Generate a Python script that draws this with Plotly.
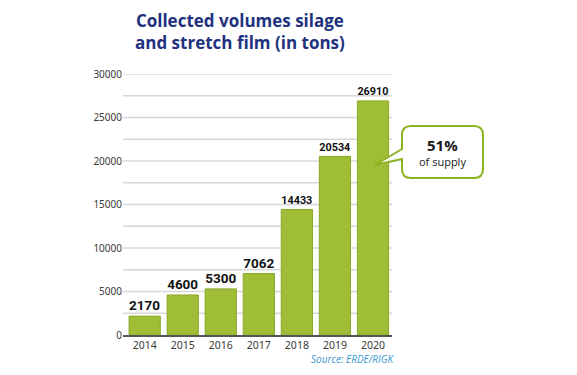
import plotly.graph_objects as go

years = ["2014", "2015", "2016", "2017", "2018", "2019", "2020"]
volumes = [2170, 4600, 5300, 7062, 14433, 20534, 26910]
y_ticks = [0, 5000, 10000, 15000, 20000, 25000, 30000]
title_text = "Collected volumes silage<br>and stretch film (in tons)"
callout_main = "51%"
callout_sub = "of supply"
source_text = "Source: ERDE/RIGK"

W, H = 577, 375
OFF = 8  # page body margin
L, T = 123 - OFF, 74 - OFF
R = W - (392 - OFF)
B = H - (335 - OFF)
PW, PH = W - L - R, H - T - B


def px(X, Y):
    return (X - OFF - L) / PW, (H - B - (Y - OFF)) / PH


def callout_path(x1, y1, x2, y2, r, tail):
    def P(X, Y):
        a, b = px(X, Y)
        return f"{a:.5f},{b:.5f}"
    (ty1, tx, ty, ty2) = tail
    s = f"M{P(x1 + r, y1)} L{P(x2 - r, y1)} Q{P(x2, y1)} {P(x2, y1 + r)} "
    s += f"L{P(x2, y2 - r)} Q{P(x2, y2)} {P(x2 - r, y2)} "
    s += f"L{P(x1 + r, y2)} Q{P(x1, y2)} {P(x1, y2 - r)} "
    s += f"L{P(x1, ty2)} L{P(tx, ty)} L{P(x1, ty1)} "
    s += f"L{P(x1, y1 + r)} Q{P(x1, y1)} {P(x1 + r, y1)} Z"
    return s


fig = go.Figure()
fig.add_trace(go.Bar(
    x=years, y=volumes,
    marker=dict(color="#a0bd37", line=dict(color="#88a826", width=1)),
    text=volumes, texttemplate="<b>%{text}</b>", textposition="outside",
    textfont=dict(family="Liberation Sans Narrow, Roboto, sans-serif", size=13.5, color="#111111"),
    cliponaxis=False,
    width=0.82,
))

fig.update_layout(
    width=W, height=H,
    margin=dict(l=L, r=R, t=T, b=B),
    paper_bgcolor="white", plot_bgcolor="white",
    showlegend=False,
    font=dict(family="Noto Sans, sans-serif", size=10, color="#3a3a3a"),
    xaxis=dict(range=[-0.57, 6.5], showgrid=False, showline=True, linecolor="#555555",
               linewidth=1.5, ticks="", tickfont=dict(size=10.5, color="#3a3a3a")),
    yaxis=dict(range=[0, 30000], tickvals=y_ticks, tickformat="d", showgrid=False, zeroline=False,
               showline=False, ticks="", tickfont=dict(size=10, color="#3a3a3a")),
    bargap=0.18,
)

for g in range(2500, 30001, 2500):
    fig.add_shape(type="line", xref="paper", yref="y", x0=0, x1=1, y0=g, y1=g,
                  line=dict(color="#d8d8d8", width=1.5), layer="below")

fig.add_shape(type="path", xref="paper", yref="paper",
              path=callout_path(402, 126, 483, 178, 9, (149, 375, 165, 159)),
              line=dict(color="#8ab31f", width=2), fillcolor="white", layer="above")

tx, ty = px(240, 7)
fig.add_annotation(x=tx, y=ty, xref="paper", yref="paper", text=f"<b>{title_text}</b>",
                   xanchor="center", yanchor="top", showarrow=False,
                   font=dict(family="Open Sans, sans-serif", size=17, color="#22327f"))

cx, cy1 = px(442, 145)
_, cy2 = px(442, 161)
fig.add_annotation(x=cx, y=cy1, xref="paper", yref="paper", text=f"<b>{callout_main}</b>",
                   xanchor="center", yanchor="middle",
                   showarrow=False, font=dict(family="Open Sans, sans-serif", size=15, color="#1a1a1a"))
fig.add_annotation(x=cx, y=cy2, xref="paper", yref="paper", text=callout_sub,
                   xanchor="center", yanchor="middle",
                   showarrow=False, font=dict(family="Open Sans, sans-serif", size=11, color="#1a1a1a"))
sx, sy = px(396, 359)
fig.add_annotation(x=sx, y=sy, xref="paper", yref="paper", text=f"<i>{source_text}</i>",
                   xanchor="right", yanchor="middle", showarrow=False,
                   font=dict(family="Open Sans, sans-serif", size=10, color="#3a96d0"))

fig.write_html("out.html")
